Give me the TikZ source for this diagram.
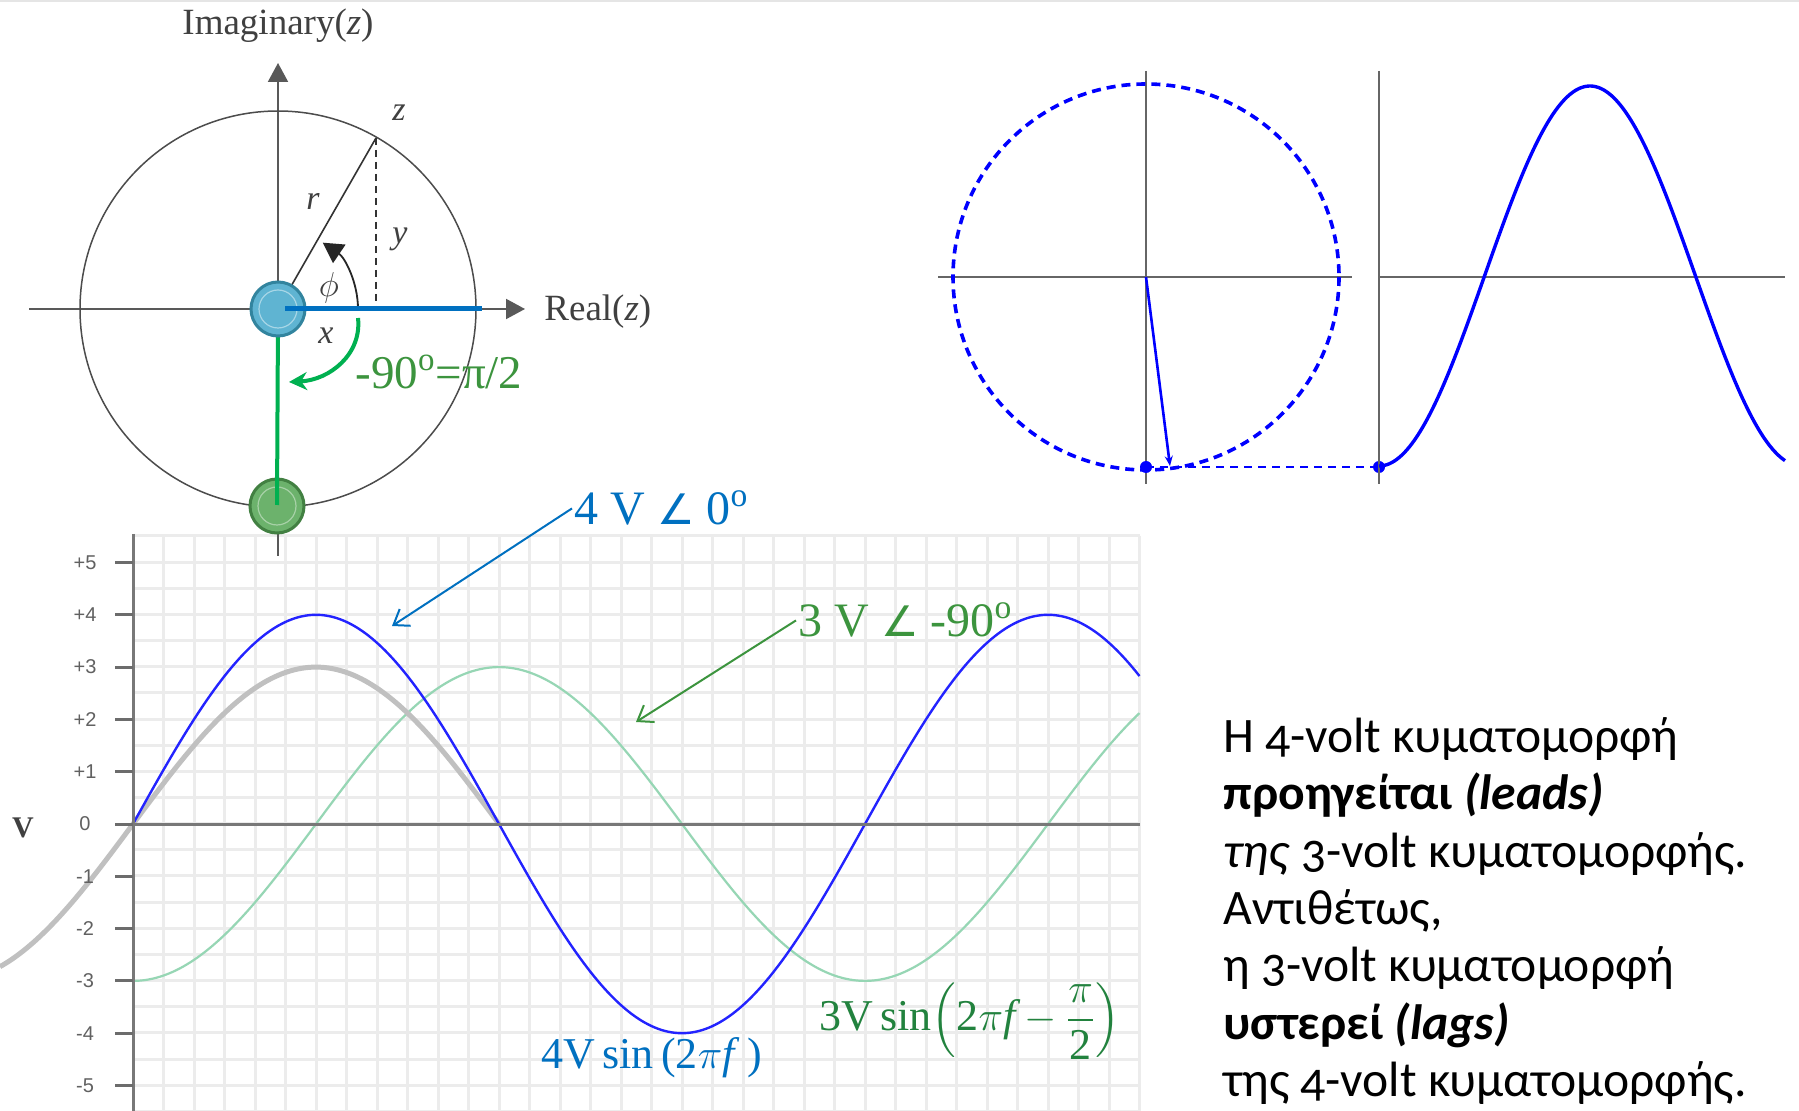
\documentclass[tikz,border=0pt]{standalone}
\usepackage{fontspec}
\usepackage{amsmath}
\setmainfont{Liberation Serif}
\newfontfamily\grfont[Numbers=OldStyle]{Carlito}
\newfontfamily\symfont{DejaVu Sans}
\newfontfamily\tickfont{Liberation Sans}
\usetikzlibrary{arrows.meta}
\definecolor{blueline}{RGB}{0,112,192}
\definecolor{phblue}{RGB}{95,180,210}
\definecolor{phbluedark}{RGB}{50,132,158}
\definecolor{phgreen}{RGB}{108,178,108}
\definecolor{phgreendark}{RGB}{66,128,66}
\definecolor{greenline}{RGB}{0,176,80}
\definecolor{greentext}{RGB}{60,148,62}
\definecolor{greenform}{RGB}{34,130,62}
\definecolor{wblue}{RGB}{35,35,255}
\definecolor{wgreen}{RGB}{150,214,180}
\definecolor{wgray}{RGB}{192,192,192}
\definecolor{gridc}{RGB}{236,236,236}
\definecolor{chaxis}{RGB}{120,120,120}
\newcommand{\angsym}{{\symfont\fontsize{21}{22}\selectfont ∠}}
\tikzset{
  gridline/.style={gridc, line width=1.5pt},
  chartaxis/.style={chaxis, line width=1.5pt},
  tickmark/.style={chaxis!90!black, line width=1.5pt},
  ticklabel/.style={text=black!62, font=\tickfont\fontsize{10}{11}\selectfont, inner sep=0pt},
  phaxis/.style={black!65, line width=1pt},
  phcircle/.style={black!70, line width=0.75pt},
  phlabel/.style={text=black!75, font=\fontsize{17}{18}\selectfont\itshape, inner sep=0pt},
  axlabel/.style={text=black!75, font=\fontsize{18.5}{20}\selectfont, inner sep=0pt},
  raxis/.style={black!60, line width=1pt},
  bluelab/.style={text=blueline, font=\fontsize{24}{26}\selectfont, inner sep=1pt},
  greenlab/.style={text=greentext, font=\fontsize{24}{26}\selectfont, inner sep=1pt},
  grtext/.style={font=\grfont\fontsize{24.8}{28.7}\selectfont, inner sep=0pt, align=left}
}
\begin{document}
\begin{tikzpicture}[x=0.5pt,y=-0.5pt]
\useasboundingbox (0,0) rectangle (1799,1111);
\fill[white] (0,0) rectangle (1799,1111);
\draw[black!10, line width=1pt] (0,1) -- (1799,1);

% ---------- chart grid ----------
\foreach \k in {1,...,33} \draw[gridline] ({133+30.5*\k},536) -- ({133+30.5*\k},1111);
\foreach \k in {0,...,22} \draw[gridline] (133,{536+26.15*\k}) -- (1139.5,{536+26.15*\k});

% waves
\draw[wgreen, line width=1.1pt] plot[domain=133:1139.5, samples=300] (\x,{824+156.9*cos((\x-133)/732*360)});
\draw[wgray, line width=2.5pt] plot[domain=0:499, samples=150] (\x,{824-156.9*sin((\x-133)/732*360)});
\draw[wblue, line width=1.2pt] plot[domain=133:1139.5, samples=300] (\x,{824-209.2*sin((\x-133)/732*360)});

% axes
\draw[chartaxis] (133,534) -- (133,1111);
\draw[chartaxis] (133,824) -- (1139.5,824);
\foreach \v/\l [count=\i] in {5/+5,4/+4,3/+3,2/+2,1/+1,0/0,-1/-1,-2/-2,-3/-3,-4/-4,-5/-5}{
  \draw[tickmark] (115,{824-52.3*\v}) -- (133,{824-52.3*\v});
  \node[ticklabel] (tl\i) at (85,{824-52.3*\v}) {\l};
}
\node[text=black!75, font=\fontsize{15}{16}\selectfont\bfseries, inner sep=0pt] (vlab) at (23,828) {V};

% ---------- phasor diagram ----------
\coordinate (O) at (278,309);
\draw[phaxis, -{Triangle[length=9.5pt,width=10pt]}] (278,556) -- (278,63);
\draw[phaxis, -{Triangle[length=9.5pt,width=10pt]}] (29,309) -- (525,309);
\draw[phcircle] (O) circle[radius=198];
\coordinate (z) at (376,138);
\coordinate (zx) at (376,309);
\draw[black!80, line width=0.8pt] (O) -- (z);
\draw[black!80, line width=0.7pt, dash pattern=on 3.5pt off 2.5pt] (z) -- (zx);
\draw[black!85, line width=0.9pt, -{Triangle[length=10pt,width=11pt]}] (358,309) arc[start angle=0, end angle=-56, radius=80];
\node[phlabel] (zl) at (399,113) {z};
\node[phlabel] (rl) at (313,201) {r};
\node[phlabel] (yl) at (400,239) {y};
\node[phlabel, font=\fontsize{17}{18}\selectfont] (phil) at (329,288) {$\phi$};
\node[phlabel] (xl) at (326,336) {x};
\node[axlabel] (imag) at (278,26) {Imaginary(\textit{z})};
\node[axlabel, anchor=west] (real) at (544,312) {Real(\textit{z})};

% green phasor
\fill[phgreen] (277,506) circle[radius=27];
\draw[phgreendark, line width=1.5pt] (277,506) circle[radius=27];
\draw[phgreen!60!white, line width=0.6pt] (277,506) circle[radius=19];
\draw[greenline, line width=2pt] (278,318) -- (277,505);
% blue phasor
\fill[phblue] (O) circle[radius=27];
\draw[phbluedark, line width=1.5pt] (O) circle[radius=27];
\draw[phblue!55!white, line width=0.6pt] (O) circle[radius=19];
\draw[blueline, line width=2.5pt] (285,309) -- (482,309);
% green rotation arrow
\draw[greenline, line width=2pt, -{Stealth[length=9pt,width=9pt]}] (358,318) .. controls (362,354) and (330,380) .. (289,382);
\node[text=greentext, font=\fontsize{23.5}{25}\selectfont, anchor=west, inner sep=0pt] (ang) at (355,372) {-90\textsuperscript{o}=π/2};

% ---------- rotating phasor (top right) ----------
\draw[raxis] (1146,71) -- (1146,484);
\draw[raxis] (938,277) -- (1352,277);
\draw[blue, line width=1.8pt, dash pattern=on 4.5pt off 3pt] (1146,277) circle[radius=193];
\coordinate (rc) at (1146,277);
\coordinate (rtip) at (1170,466);
\coordinate (rdot) at (1146,467);
\coordinate (sdot) at (1379,467);
\draw[blue, line width=1.3pt, -{Stealth[length=5pt,width=4pt]}] (rc) -- (rtip);
\draw[blue, line width=1pt, dash pattern=on 4pt off 3pt] (rdot) -- (sdot);
\fill[blue] (rdot) circle[radius=6];
\fill[blue] (sdot) circle[radius=6];
\draw[raxis] (1379,71) -- (1379,484);
\draw[raxis] (1379,277) -- (1785,277);
\draw[blue, line width=1.7pt] plot[domain=1379:1785, samples=160] (\x,{276+190*cos((\x-1379)/422*360)});

% ---------- annotations ----------
\node[bluelab, anchor=base west] (lab4) at (572,525) {4 V \angsym{} 0\textsuperscript{o}};
\coordinate (a4) at (392,626);
\draw[blueline, line width=1pt, -{Straight Barb[length=7pt,width=10pt]}] (lab4.west) -- (a4);
\node[greenlab, anchor=base west] (lab3) at (796,637) {3 V \angsym{} -90\textsuperscript{o}};
\coordinate (a3) at (636,722);
\draw[greentext, line width=1pt, -{Straight Barb[length=7pt,width=10pt]}] (lab3.west) -- (a3);

\node[text=blueline, font=\fontsize{22}{24}\selectfont, anchor=west, inner sep=0pt] (f4) at (541,1058) {4V\,sin\,(2$\pi$\textit{f}\,)};
\node[text=greenform, font=\fontsize{22}{24}\selectfont, anchor=west, inner sep=0pt] (f3) at (819,1021) {3V\,sin$\left(\text{2}\pi\textit{f}-\dfrac{\pi}{\text{2}}\right)$};

% ---------- Greek text ----------
\node[grtext, anchor=north west] (txt) at (1223,717) {Η 4-volt κυματομορφή\\
\textbf{προηγείται \textit{(leads)}}\\
\textit{της} 3-volt κυματομορφής.\\
Αντιθέτως,\\
η 3-volt κυματομορφή\\
\textbf{υστερεί \textit{(lags)}}\\
της 4-volt κυματομορφής.};
\end{tikzpicture}
\end{document}
